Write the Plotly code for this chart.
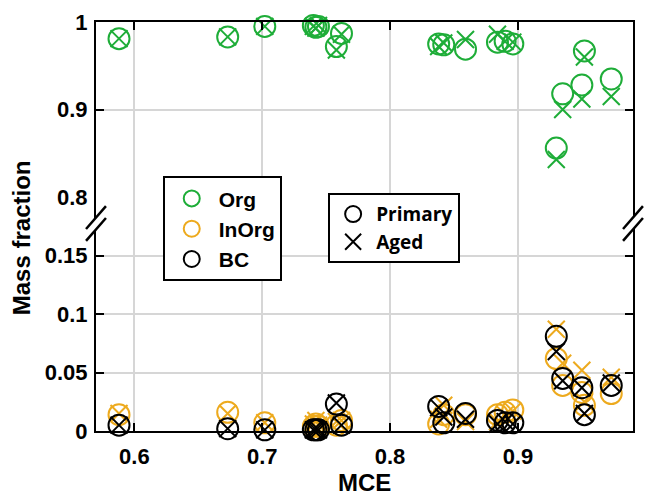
import plotly.graph_objects as go

# ---- data ----
mce = [0.588, 0.673, 0.702, 0.740, 0.742, 0.744, 0.758, 0.762, 0.838, 0.842,
       0.859, 0.884, 0.890, 0.896, 0.930, 0.935, 0.950, 0.952, 0.973]
org_primary = [0.981, 0.983, 0.995, 0.996, 0.994, 0.995, 0.972, 0.987, 0.975, 0.974,
               0.969, 0.977, 0.978, 0.975, 0.856, 0.918, 0.928, 0.967, 0.935]
org_aged = [0.981, 0.983, 0.995, 0.995, 0.993, 0.996, 0.968, 0.986, 0.972, 0.976,
            0.980, 0.986, 0.978, 0.977, 0.843, 0.900, 0.912, 0.960, 0.915]
inorg_primary = [0.014, 0.016, 0.007, 0.004, 0.006, 0.004, 0.005, 0.009, 0.006, 0.014,
                 0.014, 0.014, 0.016, 0.018, 0.062, 0.039, 0.033, 0.022, 0.032]
inorg_aged = [0.015, 0.015, 0.007, 0.006, 0.009, 0.005, 0.008, 0.009, 0.010, 0.022,
              0.008, 0.008, 0.014, 0.017, 0.087, 0.058, 0.052, 0.025, 0.046]
bc_primary = [0.005, 0.002, 0.001, 0.001, 0.001, 0.001, 0.023, 0.005, 0.021, 0.007,
              0.015, 0.009, 0.007, 0.007, 0.081, 0.045, 0.037, 0.014, 0.039]
bc_aged = [0.005, 0.002, 0.001, 0.001, 0.001, 0.001, 0.024, 0.005, 0.020, 0.012,
           0.010, 0.006, 0.008, 0.006, 0.068, 0.043, 0.037, 0.015, 0.041]

x_ticks = [0.6, 0.7, 0.8, 0.9]
x_labels = ["0.6", "0.7", "0.8", "0.9"]
low_ticks = [0, 0.05, 0.1, 0.15, 0.2]
low_labels = ["0", "0.05", "0.1", "0.15", ""]
high_ticks = [0.8, 0.9, 1.0]
high_labels = ["0.8", "0.9", "1"]

GREEN = "#1EAD38"
ORANGE = "#EDAA1E"
BLACK = "#000000"
FONT = "Liberation Sans"

fig = go.Figure()

def add(y, color, symbol, yaxis, xaxis, size):
    fig.add_trace(go.Scatter(
        x=mce, y=y, mode="markers", xaxis=xaxis, yaxis=yaxis, showlegend=False,
        cliponaxis=False,
        marker=dict(symbol=symbol, size=size, color=color, line=dict(width=2, color=color))))

add(org_primary, GREEN, "circle-open", "y2", "x2", 21)
add(org_aged, GREEN, "x-thin-open", "y2", "x2", 17)
add(inorg_primary, ORANGE, "circle-open", "y", "x", 21)
add(inorg_aged, ORANGE, "x-thin-open", "y", "x", 17)
add(bc_primary, BLACK, "circle-open", "y", "x", 21)
add(bc_aged, BLACK, "x-thin-open", "y", "x", 17)

# legend entries
for name, color in [("Org", GREEN), ("InOrg", ORANGE), ("BC", BLACK)]:
    fig.add_trace(go.Scatter(x=[None], y=[None], mode="markers", name=name, legend="legend",
                             marker=dict(symbol="circle-open", size=16, color=color,
                                         line=dict(width=2, color=color))))
for name, sym in [("Primary", "circle-open"), ("Aged", "x-thin-open")]:
    fig.add_trace(go.Scatter(x=[None], y=[None], mode="markers", name=name, legend="legend2",
                             marker=dict(symbol=sym, size=16, color=BLACK,
                                         line=dict(width=2, color=BLACK))))

split = (431 - 196) / 411.0
axis_common = dict(showline=True, linecolor="black", linewidth=2, ticks="inside",
                   ticklen=8, tickwidth=2, tickcolor="black", showgrid=True,
                   gridcolor="#d6d6d6", gridwidth=1.5, zeroline=False,
                   tickfont=dict(family=FONT, size=22, color="black", weight="bold"))

def px_x(p):
    return (p - 96) / 539.0

def px_y(p):
    return (431 - p) / 411.0

fig.update_layout(
    width=645, height=495,
    margin=dict(l=96, r=10, t=20, b=64),
    plot_bgcolor="white", paper_bgcolor="white",
    font=dict(family=FONT, color="black"),
    xaxis=dict(range=[0.57, 0.99], tickvals=x_ticks, ticktext=x_labels, anchor="y",
               domain=[0, 1], ticklabelstandoff=5, **axis_common),
    xaxis2=dict(range=[0.57, 0.99], tickvals=x_ticks, matches="x", anchor="y2",
                side="top", showticklabels=False, domain=[0, 1], **axis_common),
    yaxis=dict(range=[0, 0.2], tickvals=low_ticks, ticktext=low_labels, domain=[0, split],
               anchor="x", mirror="ticks", ticklabelstandoff=2, **axis_common),
    yaxis2=dict(range=[0.8, 1.0], tickvals=high_ticks, ticktext=high_labels,
                domain=[split, 1], anchor="x2", mirror="ticks", ticklabelstandoff=2,
                **axis_common),
    legend=dict(x=px_x(163), y=px_y(175), xanchor="left", yanchor="top",
                bgcolor="white", bordercolor="black", borderwidth=2,
                font=dict(family=FONT, size=21, color="black", weight="bold"), itemwidth=44),
    legend2=dict(x=px_x(329), y=px_y(192), xanchor="left", yanchor="top",
                 bgcolor="white", bordercolor="black", borderwidth=2,
                 font=dict(family="Open Sans", size=19, color="black", weight="bold"),
                 itemwidth=36),
    annotations=[
        dict(text="<b>Mass fraction</b>", textangle=-90, xref="paper", yref="paper",
             x=px_x(22), y=px_y(237), xanchor="center", yanchor="middle", showarrow=False,
             font=dict(family=FONT, size=24, color="black")),
        dict(text="<b>MCE</b>", xref="paper", yref="paper",
             x=px_x(366), y=px_y(483), xanchor="center", yanchor="middle", showarrow=False,
             font=dict(family=FONT, size=24, color="black")),
    ],
)

# axis-break marks on left and right edges
shapes = []
for cx in (96, 635):
    x0, x1 = px_x(cx - 10), px_x(cx + 10)
    shapes.append(dict(type="path", xref="paper", yref="paper", layer="above",
                       path=f"M {x0},{px_y(228)} L {x1},{px_y(205)} L {x1},{px_y(217)} L {x0},{px_y(240)} Z",
                       fillcolor="white", line=dict(width=0)))
    for a, b in ((228, 205), (240, 217)):
        shapes.append(dict(type="line", xref="paper", yref="paper", layer="above",
                           x0=x0, y0=px_y(a), x1=x1, y1=px_y(b),
                           line=dict(color="black", width=2.5)))
fig.update_layout(shapes=shapes)

fig.write_html("out.html", config={"displayModeBar": False},
               post_script="document.body.style.margin='0px';")
